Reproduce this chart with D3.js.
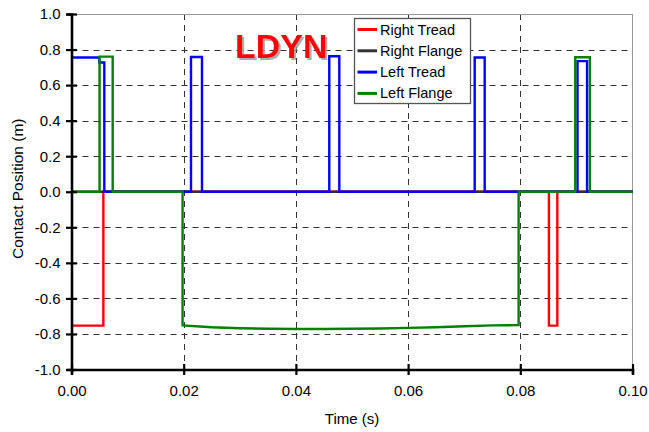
<!DOCTYPE html>
<html><head><meta charset="utf-8">
<script src="https://cdn.jsdelivr.net/npm/d3@7/dist/d3.min.js"></script>
<style>body{margin:0;background:#fff}svg{display:block}text{font-family:"Liberation Sans",Arial,sans-serif}</style>
</head><body>
<svg id="chart" width="649" height="432"></svg>
<script>
// ---- data ----
const timeTicks = [0, 0.02, 0.04, 0.06, 0.08, 0.10];
const posTicks = [-1.0, -0.8, -0.6, -0.4, -0.2, 0.0, 0.2, 0.4, 0.6, 0.8, 1.0];
const seriesNames = ["Right Tread", "Right Flange", "Left Tread", "Left Flange"];
const seriesColors = ["#ff0000", "#333333", "#0000ff", "#008000"];

const rightTreadT = [0, 0.00568, 0.00568, 0.0851, 0.0851, 0.0866, 0.0866, 0.1];
const rightTreadV = [-0.753, -0.753, 0, 0, -0.753, -0.753, 0, 0];

const rightFlangeT = [0, 0.1];
const rightFlangeV = [0, 0];

const leftTreadT = [0, 0.00496, 0.00496, 0.00585, 0.00585, 0.0213, 0.0213, 0.02326, 0.02326,
  0.04595, 0.04595, 0.04774, 0.04774, 0.07187, 0.07187, 0.07365, 0.07365,
  0.0902, 0.0902, 0.0919, 0.0919, 0.1];
const leftTreadV = [0.755, 0.755, 0.727, 0.727, 0, 0, 0.758, 0.758, 0,
  0, 0.762, 0.762, 0, 0, 0.755, 0.755, 0,
  0, 0.735, 0.735, 0, 0];

const leftFlangeT = [0, 0.005, 0.005, 0.00734, 0.00734, 0.0198, 0.0198, 0.025, 0.03, 0.035, 0.04,
  0.045, 0.05, 0.055, 0.06, 0.065, 0.07, 0.075, 0.0797, 0.0797, 0.0898, 0.0898, 0.0924, 0.0924, 0.1];
const leftFlangeV = [0, 0, 0.76, 0.76, 0, 0, -0.752, -0.762, -0.768, -0.771, -0.772,
  -0.772, -0.771, -0.769, -0.766, -0.762, -0.757, -0.752, -0.750, 0, 0, 0.757, 0.757, 0, 0];

const seriesT = [rightTreadT, rightFlangeT, leftTreadT, leftFlangeT];
const seriesV = [rightTreadV, rightFlangeV, leftTreadV, leftFlangeV];

// ---- layout ----
const svg = d3.select("#chart");
const x = d3.scaleLinear().domain([0, 0.1]).range([71.5, 632.5]);
const y = d3.scaleLinear().domain([-1, 1]).range([369.5, 14]);
const [x0, x1] = x.range();
const [y0, y1] = y.range();
const hyph = f => d => f(d).replace("\u2212", "-");

const defs = svg.append("defs");
const flt = defs.append("filter").attr("id", "shadow").attr("x", "-10%").attr("y", "-10%")
  .attr("width", "130%").attr("height", "140%");
flt.append("feDropShadow").attr("dx", 2).attr("dy", 2).attr("stdDeviation", 0.6)
  .attr("flood-color", "#999").attr("flood-opacity", 0.8);

// gridlines
const grid = svg.append("g");
grid.selectAll("line.v").data(timeTicks.filter(t => t > 0 && t < 0.1)).join("line")
  .attr("x1", d => Math.round(x(d)) + 0.5).attr("x2", d => Math.round(x(d)) + 0.5)
  .attr("y1", y1).attr("y2", y0)
  .attr("stroke", "#333").attr("stroke-width", 1).attr("stroke-dasharray", "6,5");
grid.selectAll("line.h").data(posTicks.filter(t => t > -1 && t < 1)).join("line")
  .attr("y1", d => Math.round(y(d)) + 0.5).attr("y2", d => Math.round(y(d)) + 0.5)
  .attr("x1", x0).attr("x2", x1)
  .attr("stroke", "#333").attr("stroke-width", 1).attr("stroke-dasharray", "6,5");
// top & right border
grid.append("line").attr("x1", x0).attr("x2", x1).attr("y1", y1 + 0.5).attr("y2", y1 + 0.5)
  .attr("stroke", "#999").attr("stroke-width", 1);
grid.append("line").attr("x1", x1).attr("x2", x1).attr("y1", y1).attr("y2", y0)
  .attr("stroke", "#999").attr("stroke-width", 1);

// series
const line = d3.line().x(d => x(d[0])).y(d => y(d[1]));
seriesT.forEach((ts, i) => {
  const pts = ts.map((t, k) => [t, seriesV[i][k]]);
  svg.append("path").datum(pts).attr("d", line)
    .attr("fill", "none").attr("stroke", seriesColors[i])
    .attr("stroke-width", 2.4).attr("stroke-linejoin", "miter");
});

// axes
const fontSize = 15;
const yAxis = d3.axisLeft(y).tickValues(posTicks).tickFormat(hyph(d3.format(".1f"))).tickSize(5).tickPadding(7);
const gy = svg.append("g").attr("transform", `translate(${x0},0)`).call(yAxis);
gy.select(".domain").attr("stroke", "#000").attr("stroke-width", 2.6);
gy.selectAll(".tick line").attr("x1", -5.5).attr("x2", 5.5).attr("stroke", "#000").attr("stroke-width", 2.2);
gy.selectAll(".tick text").attr("font-size", fontSize).attr("fill", "#000")
  .style("font-family", '"Liberation Sans",Arial,sans-serif').attr("x", -11);

const xAxis = d3.axisBottom(x).tickValues(timeTicks).tickFormat(hyph(d3.format(".2f"))).tickSize(5).tickPadding(11);
const gx = svg.append("g").attr("transform", `translate(0,${y0})`).call(xAxis);
gx.select(".domain").attr("stroke", "#000").attr("stroke-width", 2.6);
gx.selectAll(".tick line").attr("y1", -5.5).attr("y2", 5.5).attr("stroke", "#000").attr("stroke-width", 2.2);
gx.selectAll(".tick text").attr("font-size", fontSize).attr("fill", "#000")
  .style("font-family", '"Liberation Sans",Arial,sans-serif');

// axis titles
svg.append("text").attr("x", (x0 + x1) / 2).attr("y", 424).attr("text-anchor", "middle")
  .attr("font-size", 15).text("Time (s)");
svg.append("text").attr("transform", `translate(23,${(y0 + y1) / 2 - 3}) rotate(-90)`)
  .attr("text-anchor", "middle").attr("font-size", 15.5).text("Contact Position (m)");

// title with shadow
svg.append("text").attr("x", 235).attr("y", 58).attr("font-size", 34).attr("font-weight", "bold")
  .attr("fill", "#ff0000").attr("filter", "url(#shadow)").text("LDYN");

// legend
const lg = svg.append("g");
lg.append("rect").attr("x", 354.5).attr("y", 18.5).attr("width", 116).attr("height", 85)
  .attr("fill", "#fff").attr("stroke", "#555").attr("stroke-width", 1.3);
seriesNames.forEach((n, i) => {
  const yy = 29.5 + i * 21.3;
  lg.append("line").attr("x1", 357.5).attr("x2", 377).attr("y1", yy).attr("y2", yy)
    .attr("stroke", seriesColors[i]).attr("stroke-width", 3);
  lg.append("text").attr("x", 380).attr("y", yy + 5).attr("font-size", 14.5).text(n);
});
</script>
</body></html>
